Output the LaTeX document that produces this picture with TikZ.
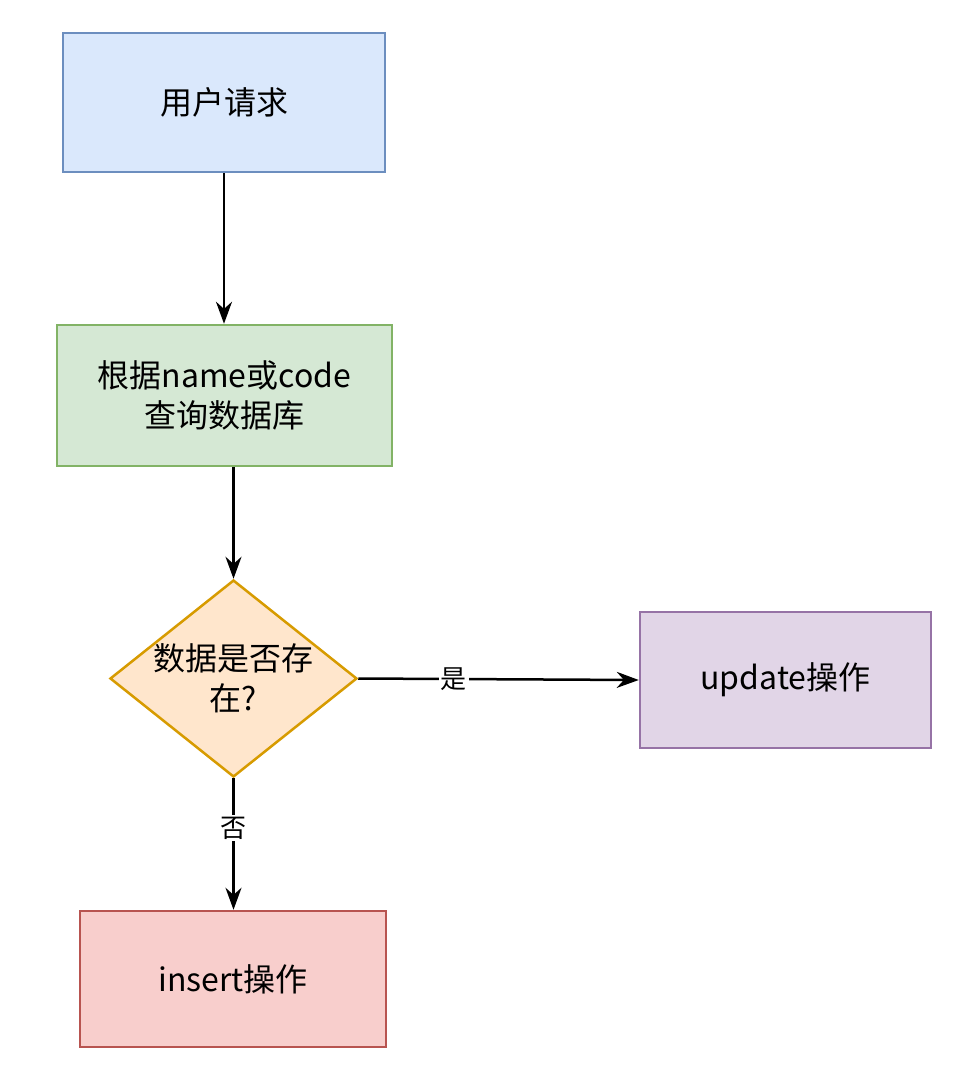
\documentclass[tikz,border=0pt]{standalone}
\usepackage{fontspec}
\setmainfont{Noto Sans CJK SC}
\usetikzlibrary{shapes.geometric,arrows.meta}
\definecolor{bfill}{HTML}{DAE8FC}\definecolor{bline}{HTML}{6C8EBF}
\definecolor{gfill}{HTML}{D5E8D4}\definecolor{gline}{HTML}{82B366}
\definecolor{ofill}{HTML}{FFE6CC}\definecolor{oline}{HTML}{D79B00}
\definecolor{pfill}{HTML}{E1D5E7}\definecolor{pline}{HTML}{9673A6}
\definecolor{rfill}{HTML}{F8CECC}\definecolor{rline}{HTML}{B85450}
\begin{document}
\begin{tikzpicture}[x=1pt,y=-1pt,
  box/.style={draw,line width=2.5pt,inner sep=0pt,align=center,font=\fontsize{32}{40}\selectfont},
  conn/.style={line width=2.5pt,-{Stealth[length=22pt,width=16pt]}},
  lbl/.style={fill=white,inner sep=2pt,font=\fontsize{26}{30}\selectfont}]
\useasboundingbox[fill=white] (0,0) rectangle (964,1066);
\node[box,fill=bfill,draw=bline,minimum width=322pt,minimum height=139pt] (a) at (224,102.5) {用户请求};
\node[box,fill=gfill,draw=gline,minimum width=335pt,minimum height=141pt] (b) at (224.5,395.5) {根据name或code\\查询数据库};
\node[draw=oline,fill=ofill,line width=2.5pt,diamond,inner sep=0pt,minimum width=247pt,minimum height=197pt] (c) at (233.5,678.5) {};
\node[align=center,font=\fontsize{32}{40}\selectfont] (ct) at (233.5,678.5) {数据是否存\\在?};
\node[box,fill=pfill,draw=pline,minimum width=291pt,minimum height=136pt] (d) at (785.5,680) {update操作};
\node[box,fill=rfill,draw=rline,minimum width=306pt,minimum height=136pt] (e) at (233,979) {insert操作};
\draw[conn] (a.south) -- (a.south|-b.north);
\draw[conn] (c.north|-b.south) -- (c.north);
\draw[conn] (c.east) -- node[lbl,pos=0.34]{是} (d.west);
\draw[conn] (c.south) -- node[lbl,pos=0.38]{否} (c.south|-e.north);
\end{tikzpicture}
\end{document}
